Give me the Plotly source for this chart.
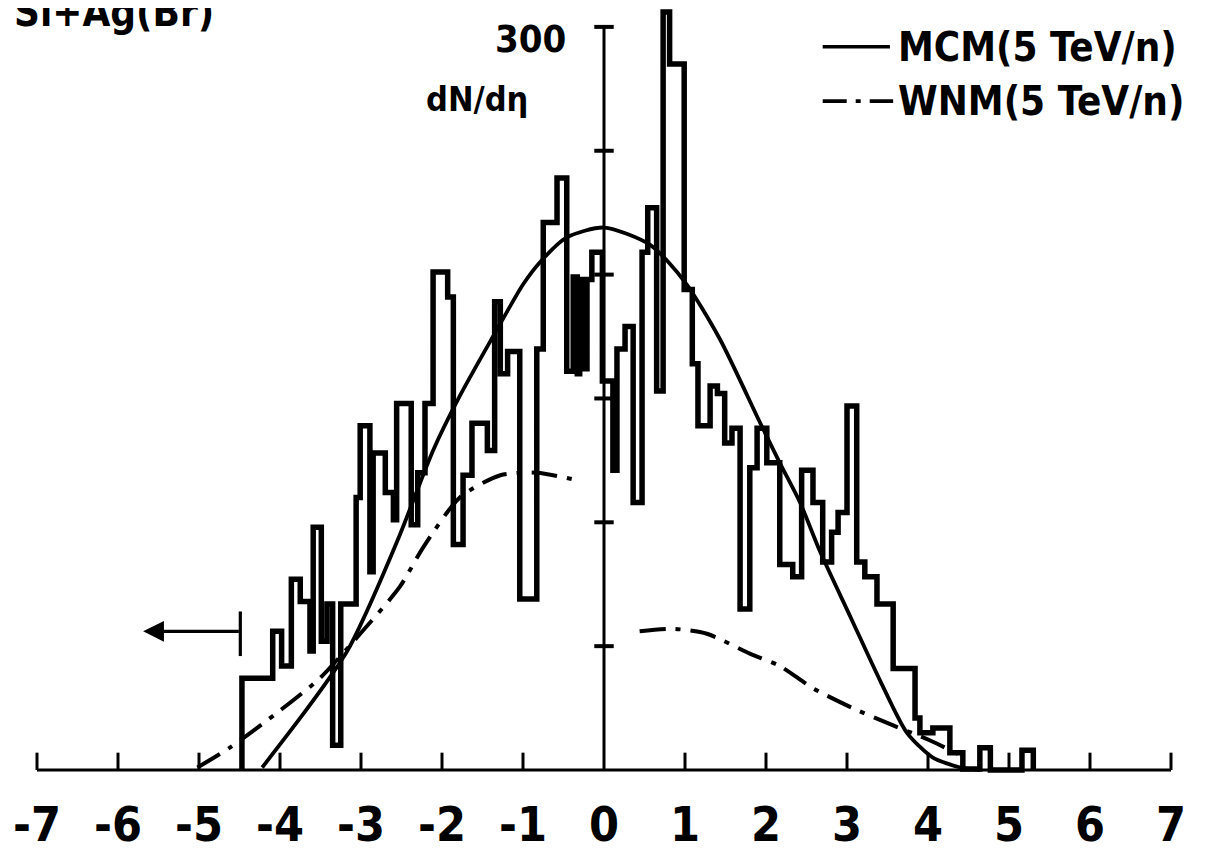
import plotly.graph_objects as go

# ---------------- data ----------------
# histogram: bin edges (eta) and dN/deta heights; last edge closes the histogram
hist_edges = [-4.47, -4.09, -3.98, -3.86, -3.75, -3.63, -3.59, -3.49, -3.42, -3.35,
              -3.25, -3.06, -3.01, -2.89, -2.85, -2.70, -2.60, -2.56, -2.38, -2.30,
              -2.21, -2.11, -1.93, -1.86, -1.74, -1.63, -1.44, -1.35, -1.28, -1.19,
              -1.04, -0.83, -0.75, -0.58, -0.46, -0.38, -0.33, -0.30, -0.25, -0.21,
              -0.15, -0.02, 0.11, 0.16, 0.26, 0.36, 0.47, 0.54, 0.65, 0.73,
              0.81, 0.99, 1.09, 1.16, 1.31, 1.40, 1.49, 1.58, 1.68, 1.80,
              1.89, 2.01, 2.17, 2.33, 2.44, 2.58, 2.70, 2.81, 2.89, 3.00,
              3.12, 3.22, 3.37, 3.57, 3.84, 3.90, 4.06, 4.27, 4.43, 4.64,
              4.77, 5.16, 5.30]
hist_heights = [37, 56, 42, 77, 68, 48, 98, 52, 67, 10,
                67, 110, 139, 80, 128, 112, 101, 148, 99, 120,
                148, 201, 191, 91, 119, 140, 129, 189, 160, 169,
                69, 170, 221, 239, 161, 199, 160, 198, 162, 198,
                209, 157, 121, 170, 179, 108, 209, 227, 153, 306,
                285, 194, 164, 139, 155, 152, 132, 138, 65, 122,
                138, 124, 83, 78, 121, 108, 84, 96, 104, 147,
                84, 78, 67, 41, 21, 15, 17, 7, 0.4, 9,
                0, 8]

# MCM (solid curve)
mcm_eta = [-4.22, -3.75, -3.35, -3.17, -3.00, -2.52, -2.11, -1.78, -1.37, -1.00,
           -0.79, -0.46, 0.00, 0.57, 1.00, 1.43, 1.93, 2.17, 2.42, 2.67,
           3.04, 3.41, 3.74, 4.06, 4.40, 4.64]
mcm_val = [1, 21, 39, 48, 59, 95, 129, 151, 175, 196,
           205, 215, 219, 212, 197, 174, 140, 124, 108, 88,
           62, 36, 15, 5, 1, 0]

# WNM (dash-dot curve), drawn in two pieces
wnm_left_eta = [-5.02, -4.62, -4.00, -3.51, -3.01, -2.52, -2.23, -1.78, -1.28, -0.83, -0.33]
wnm_left_val = [1, 9, 24, 37, 55, 74, 90, 110, 119, 120, 117]
wnm_right_eta = [0.44, 0.85, 1.27, 1.80, 2.17, 2.58, 3.07, 3.57, 4.02, 4.46]
wnm_right_val = [56, 57, 55, 47, 42, 33, 25, 18, 12, 5]

x_ticks = [-7, -6, -5, -4, -3, -2, -1, 0, 1, 2, 3, 4, 5, 6, 7]
y_ticks = [50, 100, 150, 200, 250, 300]

# ---------------- figure ----------------
NUMF = "Liberation Sans Narrow, DejaVu Sans Condensed, sans-serif"
TXTF = "DejaVu Sans Condensed, DejaVu Sans, sans-serif"
fig = go.Figure()

# histogram outline
hx, hy = [hist_edges[0]], [0]
for i, h in enumerate(hist_heights):
    hx += [hist_edges[i], hist_edges[i + 1]]
    hy += [h, h]
hx.append(hist_edges[-1]); hy.append(0)
fig.add_trace(go.Scatter(x=hx, y=hy, mode="lines",
                         line=dict(color="black", width=5.5), hoverinfo="skip"))

fig.add_trace(go.Scatter(x=mcm_eta, y=mcm_val, mode="lines",
                         line=dict(color="black", width=3.8, shape="spline", smoothing=0.7),
                         hoverinfo="skip"))
dd = "26px,10px,5px,10px"
for ex, ev in ((wnm_left_eta, wnm_left_val), (wnm_right_eta, wnm_right_val)):
    fig.add_trace(go.Scatter(x=ex, y=ev, mode="lines",
                             line=dict(color="black", width=4, dash=dd, shape="spline",
                                       smoothing=0.7),
                             hoverinfo="skip"))

# x axis line and ticks
fig.add_trace(go.Scatter(x=[x_ticks[0], x_ticks[-1]], y=[0, 0], mode="lines",
                         line=dict(color="black", width=3.2), hoverinfo="skip"))
tx, ty = [], []
for t in x_ticks:
    if t != 0:
        tx += [t, t, None]; ty += [0, 7, None]
fig.add_trace(go.Scatter(x=tx, y=ty, mode="lines", line=dict(color="black", width=3),
                         hoverinfo="skip"))
# y axis line and ticks
fig.add_trace(go.Scatter(x=[0, 0], y=[0, y_ticks[-1]], mode="lines",
                         line=dict(color="black", width=3), hoverinfo="skip"))
yx, yy = [], []
for t in y_ticks:
    yx += [-0.12, 0.12, None]; yy += [t, t, None]
fig.add_trace(go.Scatter(x=yx, y=yy, mode="lines", line=dict(color="black", width=4),
                         hoverinfo="skip"))

# arrow marker (left)
fig.add_trace(go.Scatter(x=[-4.49, -4.49], y=[46, 64], mode="lines",
                         line=dict(color="black", width=3.2), hoverinfo="skip"))
fig.add_annotation(x=-5.69, y=56, ax=-4.49, ay=56, xref="x", yref="y", axref="x", ayref="y",
                   text="", showarrow=True, arrowhead=2, arrowsize=1.3, arrowwidth=3.2,
                   arrowcolor="black")

# legend lines
fig.add_trace(go.Scatter(x=[2.70, 3.53], y=[292, 292], mode="lines",
                         line=dict(color="black", width=3.5), hoverinfo="skip"))
fig.add_trace(go.Scatter(x=[2.70, 3.57], y=[270, 270], mode="lines",
                         line=dict(color="black", width=3.8, dash="24px,9px,5px,9px"),
                         hoverinfo="skip"))

annotations = []
for t in x_ticks:
    annotations.append(dict(x=t, y=-22, xref="x", yref="y", text="<b>%s</b>" % t,
                            showarrow=False, font=dict(family=NUMF, size=48, color="black"),
                            xanchor="center", yanchor="middle"))
annotations += [
    dict(x=-0.44, y=295, xref="x", yref="y", text="<b>300</b>", showarrow=False,
         font=dict(family=NUMF, size=38, color="black"), xanchor="right", yanchor="middle"),
    dict(x=-1.57, y=271, xref="x", yref="y", text="<b>dN/dη</b>", showarrow=False,
         font=dict(family=TXTF, size=34, color="black"), xanchor="center", yanchor="middle"),
    dict(x=-7.31, y=306, xref="x", yref="y", text="<b>Si+Ag(Br)</b>", showarrow=False,
         font=dict(family=TXTF, size=40, color="black"), xanchor="left", yanchor="middle"),
    dict(x=3.60, y=292, xref="x", yref="y", text="<b>MCM(5 TeV/n)</b>", showarrow=False,
         font=dict(family=TXTF, size=40, color="black"), xanchor="left", yanchor="middle"),
    dict(x=3.60, y=270, xref="x", yref="y", text="<b>WNM(5 TeV/n)</b>", showarrow=False,
         font=dict(family=TXTF, size=40, color="black"), xanchor="left", yanchor="middle"),
]
for a in annotations:
    fig.add_annotation(**a)

# page has an 8px body margin: map page pixels (x0=604 at eta 0, y0=770 at 0) accordingly
fig.update_layout(
    width=1212, height=852,
    margin=dict(l=0, r=0, t=0, b=0),
    paper_bgcolor="white", plot_bgcolor="white",
    showlegend=False,
    xaxis=dict(range=[(8 - 604) / 81, (1220 - 604) / 81], visible=False),
    yaxis=dict(range=[(770 - 860) / 2.477, (770 - 8) / 2.477], visible=False),
)

fig.write_html("out.html")
